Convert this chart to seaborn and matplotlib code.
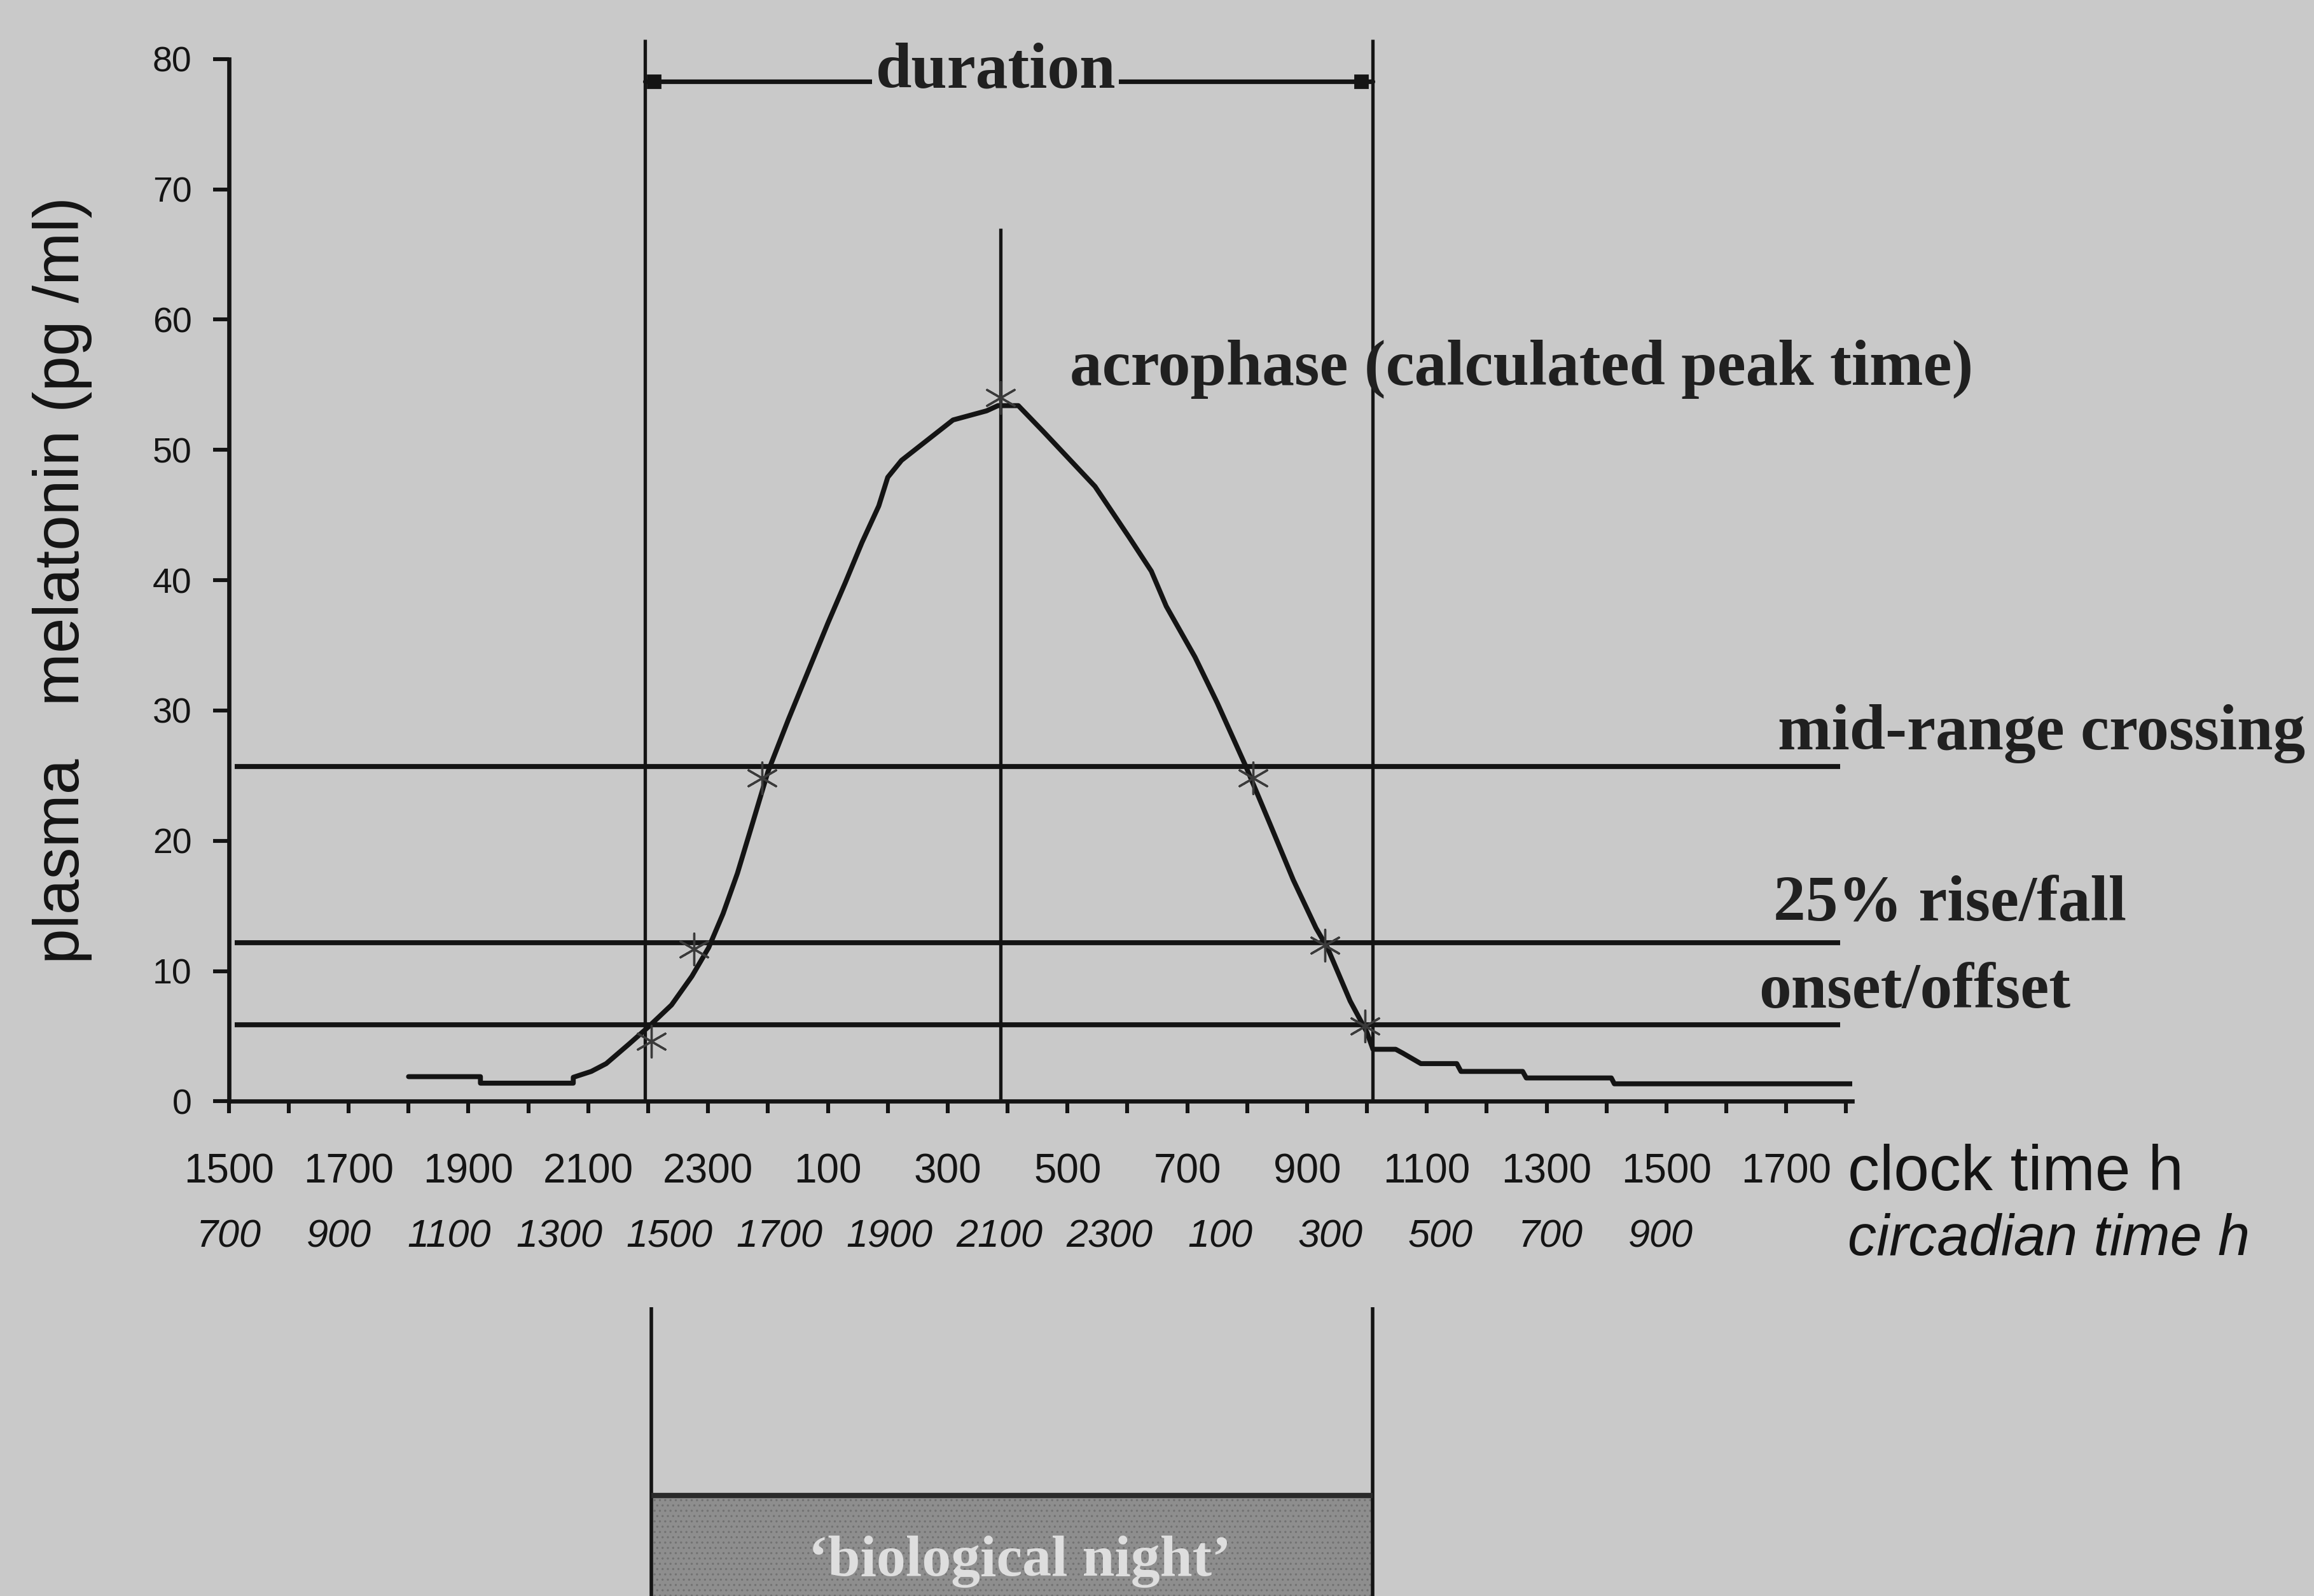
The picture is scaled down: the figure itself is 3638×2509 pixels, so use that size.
import numpy as np
import pandas as pd
import matplotlib
matplotlib.use("Agg")
import matplotlib.pyplot as plt
from matplotlib import font_manager as fm, transforms
import seaborn as sns

# ---------------- data ----------------
clock_labels = ["1500", "1700", "1900", "2100", "2300", "100", "300", "500",
                "700", "900", "1100", "1300", "1500", "1700"]
circadian_labels = ["700", "900", "1100", "1300", "1500", "1700", "1900", "2100",
                    "2300", "100", "300", "500", "700", "900"]

# hours since 15:00 clock time, plasma melatonin (pg/ml)
curve_hours = [3.0, 4.2, 4.2, 5.75, 5.75, 6.05, 6.3, 6.68, 7.0, 7.39, 7.73, 8.01,
               8.25, 8.49, 8.72, 9.0, 9.34, 9.67, 10.0, 10.29, 10.57, 10.85, 11.0,
               11.23, 12.09, 12.65, 12.84, 13.18, 13.6, 14.46, 15.03, 15.4, 15.65,
               16.13, 16.5, 16.97, 17.39, 17.77, 18.15, 18.34, 18.72, 19.0, 19.1,
               19.48, 19.6, 19.9, 20.5, 20.57, 21.6, 21.66, 23.08, 23.13, 27.1]
curve_melatonin = [1.9, 1.9, 1.4, 1.4, 1.85, 2.3, 2.9, 4.4, 5.7, 7.4, 9.6, 11.8,
                   14.4, 17.5, 21.0, 25.3, 29.3, 33.0, 36.7, 39.8, 42.9, 45.7, 47.9,
                   49.2, 52.3, 53.0, 53.4, 53.4, 51.4, 47.2, 43.3, 40.7, 38.0,
                   34.1, 30.6, 25.8, 21.2, 17.0, 13.3, 11.8, 7.7, 5.3, 4.0,
                   4.0, 3.7, 2.9, 2.9, 2.3, 2.3, 1.8, 1.8, 1.35, 1.35]

# phase markers (asterisks)
marker_hours = [7.05, 7.76, 8.9, 12.88, 17.1, 18.3, 18.97]
marker_melatonin = [4.6, 11.7, 24.8, 54.0, 24.8, 12.0, 5.8]

onset_hour, offset_hour, acrophase_hour = 6.95, 19.1, 12.88
threshold_levels = [25.7, 12.2, 5.9]   # mid-range, 25% rise/fall, onset/offset
threshold_names = ["mid-range crossing", "25% rise/fall", "onset/offset"]
acrophase_top = 67.0

# ---------------- style ----------------
BG = "#c9c9c9"
INK = "#141414"
sns.set_theme(style="white")
plt.rcParams["font.family"] = ["Liberation Sans", "DejaVu Sans"]
plt.rcParams["hatch.linewidth"] = 0.6

names = {f.name for f in fm.fontManager.ttflist}
narrow = "Liberation Sans Narrow" in names
tick_family = ["Liberation Sans Narrow", "Liberation Sans"] if narrow else ["Liberation Sans", "DejaVu Sans"]
tick_size = 27 if narrow else 23
serif = ["Liberation Serif", "DejaVu Serif"]

fig = plt.figure(figsize=(3638 / 200, 2509 / 200), dpi=200, facecolor=BG)
ax = fig.add_axes([0.0989, 0.3099, 0.7015, 0.6531])
ax.set_facecolor(BG)

df = pd.DataFrame({"hour": curve_hours, "melatonin": curve_melatonin})
sns.lineplot(data=df, x="hour", y="melatonin", ax=ax, color=INK, lw=2.8,
             sort=False, estimator=None, zorder=4)

# threshold lines
ax.hlines(threshold_levels, 0.1, 26.9, color=INK, lw=2.8, zorder=3)
# phase lines
ax.vlines([onset_hour, offset_hour], 0, 81.5, color=INK, lw=1.9, clip_on=False, zorder=3)
ax.vlines([acrophase_hour], 0, acrophase_top, color=INK, lw=1.9, zorder=3)

mk = pd.DataFrame({"hour": marker_hours, "melatonin": marker_melatonin})
sns.scatterplot(data=mk, x="hour", y="melatonin", ax=ax, marker=(6, 2, 0),
                s=320, color="#3a3a3a", linewidth=1.2, zorder=5)

# axes look
ax.set_xlim(0, 27.1)
ax.set_ylim(0, 80)
for s in ["top", "right"]:
    ax.spines[s].set_visible(False)
for s in ["left", "bottom"]:
    ax.spines[s].set_color(INK)
    ax.spines[s].set_linewidth(2.4)
ax.set_xticks(np.arange(0, 27, 2))
ax.set_xticklabels(clock_labels)
ax.set_xticks(np.arange(1, 28, 2), minor=True)
ax.set_yticks(np.arange(0, 81, 10))
ax.tick_params(axis="x", which="both", direction="out", length=7, width=2.2,
               color=INK, bottom=True, pad=22)
ax.tick_params(axis="x", which="major", labelsize=tick_size, labelcolor=INK)
ax.tick_params(axis="y", direction="out", length=9, width=2.2, color=INK,
               left=True, pad=12, labelsize=20, labelcolor=INK)
for lab in ax.get_xticklabels():
    lab.set_family(tick_family)
ax.set_xlabel("")
ax.set_ylabel("plasma   melatonin (pg /ml)", fontsize=36, color=INK, labelpad=34)

# circadian labels row
trans = transforms.blended_transform_factory(ax.transData, fig.transFigure)
for pos, lab in zip(np.linspace(0, 23.9, len(circadian_labels)), circadian_labels):
    ax.text(pos, 0.2248, lab, transform=trans, ha="center", va="center",
            fontsize=tick_size - 1, style="italic", family=tick_family, color=INK)

fig.text(0.7985, 0.2646, "clock time h", fontsize=36, color=INK, va="center", ha="left")
fig.text(0.7985, 0.2230, "circadian time h", fontsize=32.5, style="italic",
         color=INK, va="center", ha="left")

# annotations
ann = dict(family=serif, fontweight="bold", color="#202020", clip_on=False,
           va="center", ha="left", fontsize=36.5)
ax.text(14.04, 56.2, "acrophase (calculated peak time)", **ann)
ax.text(25.86, 28.2, threshold_names[0], **ann)
ax.text(25.79, 15.1, threshold_names[1], **ann)
ax.text(25.54, 8.4, threshold_names[2], **ann)

# duration bar
ax.plot([onset_hour, offset_hour], [78.3, 78.3], color=INK, lw=2.6,
        clip_on=False, zorder=3)
ax.plot([onset_hour + 0.15, offset_hour - 0.2], [78.3, 78.3], ls="none",
        marker="s", ms=7, color=INK, clip_on=False, zorder=3)
ax.text(12.8, 79.0, "duration", family=serif, fontweight="bold", fontsize=36.5,
        color="#202020", ha="center", va="center", clip_on=False, zorder=6,
        bbox=dict(facecolor=BG, edgecolor="none", pad=2))

# lower panel: biological night
ax2 = fig.add_axes([0.0989, 0.0, 0.7015, 0.181])
ax2.set_xlim(0, 27.1)
ax2.set_ylim(0, 1)
ax2.axis("off")
ax2.vlines([onset_hour + 0.1, offset_hour], 0, 1, color=INK, lw=2.0)
ax2.fill_between([onset_hour + 0.1, offset_hour], 0, 0.347, facecolor="#8e8e8e",
                 edgecolor="#727272", hatch="....", lw=0)
ax2.hlines(0.347, onset_hour + 0.1, offset_hour, color="#2a2a2a", lw=3.0)
ax2.text(13.2, 0.12, "\u2018biological night\u2019", family=serif, fontweight="bold",
         fontsize=33, color="#dedede", ha="center", va="center")

fig.savefig("out.png", dpi=200, facecolor=BG)
